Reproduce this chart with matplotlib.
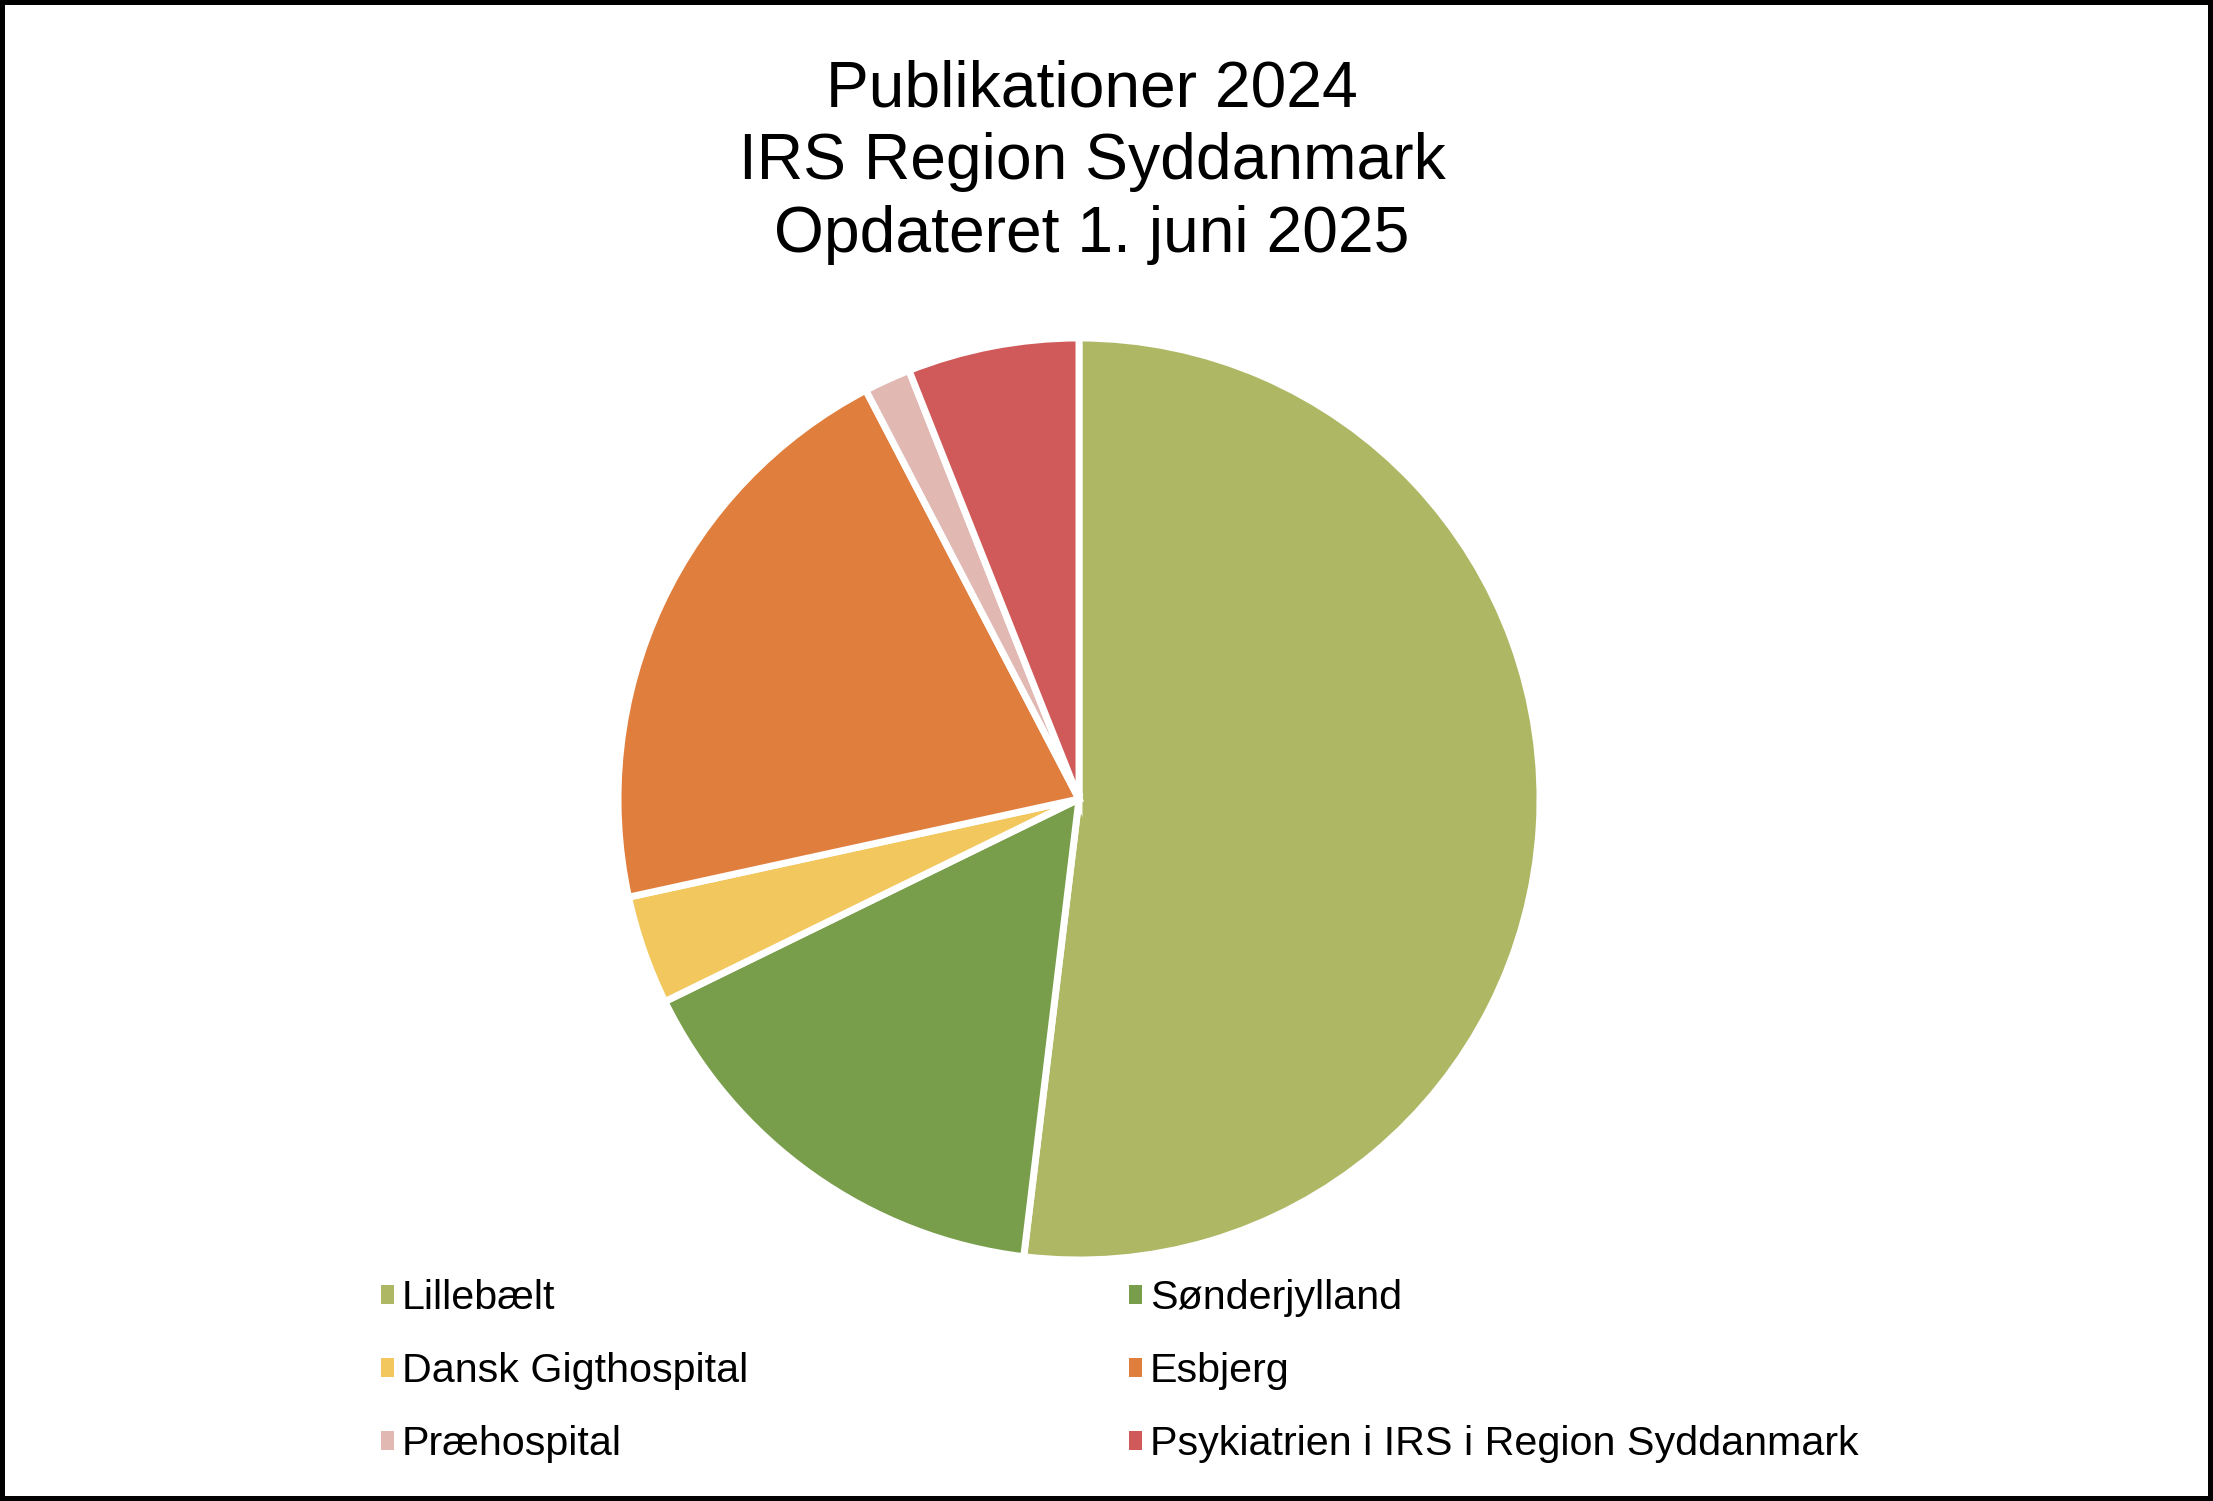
import matplotlib
matplotlib.use("Agg")
import matplotlib.pyplot as plt
from matplotlib.patches import Patch, Rectangle

plt.rcParams['font.family'] = ['Liberation Sans', 'DejaVu Sans']

# Data
categories = ["Lillebælt", "Sønderjylland", "Dansk Gigthospital", "Esbjerg",
              "Præhospital", "Psykiatrien i IRS i Region Syddanmark"]
values = [95, 29, 7, 38, 3, 11]
colors = ["#AEB764", "#799E4B", "#F2C85E", "#E07E3E", "#E1B8B2", "#D05A59"]
title = "Publikationer 2024\nIRS Region Syddanmark\nOpdateret 1. juni 2025"

W, H = 2213, 1501
fig = plt.figure(figsize=(W / 100, H / 100), dpi=100)
fig.patch.set_facecolor("white")

# Pie axes: center (1079, 799) px, radius ~460 px
cx, cy, r = 1079, 799, 461
ax = fig.add_axes([(cx - r) / W, (H - cy - r) / H, 2 * r / W, 2 * r / H])
wedges, _ = ax.pie(values, colors=colors, startangle=90, counterclock=False,
                   radius=1.0,
                   wedgeprops=dict(edgecolor="white", linewidth=5.0))
ax.set_xlim(-1, 1)
ax.set_ylim(-1, 1)
ax.set_aspect("equal")
ax.axis("off")

# Title (baseline of last line)
fig.text(1092 / W, 1 - 252 / H, title, ha="center", va="baseline",
         fontsize=46.2, linespacing=1.27, color="black")

# Legend (row-wise order)
order = [0, 2, 4, 1, 3, 5]
handles = [Patch(facecolor=colors[i], edgecolor="none") for i in order]
labels = [categories[i] for i in order]
fig.legend(handles, labels, ncol=2, loc="upper left",
           bbox_to_anchor=(381 / W, 1 - 1279 / H),
           frameon=False, fontsize=29.7, handlelength=0.32, handleheight=0.32,
           handletextpad=0.18, columnspacing=9.24, labelspacing=0.85,
           borderpad=0, borderaxespad=0)

# Figure border
fig.patches.append(Rectangle((0, 0), 1, 1, transform=fig.transFigure,
                             fill=False, edgecolor="black", linewidth=7.2,
                             clip_on=False))

fig.savefig("out.png", dpi=100)
